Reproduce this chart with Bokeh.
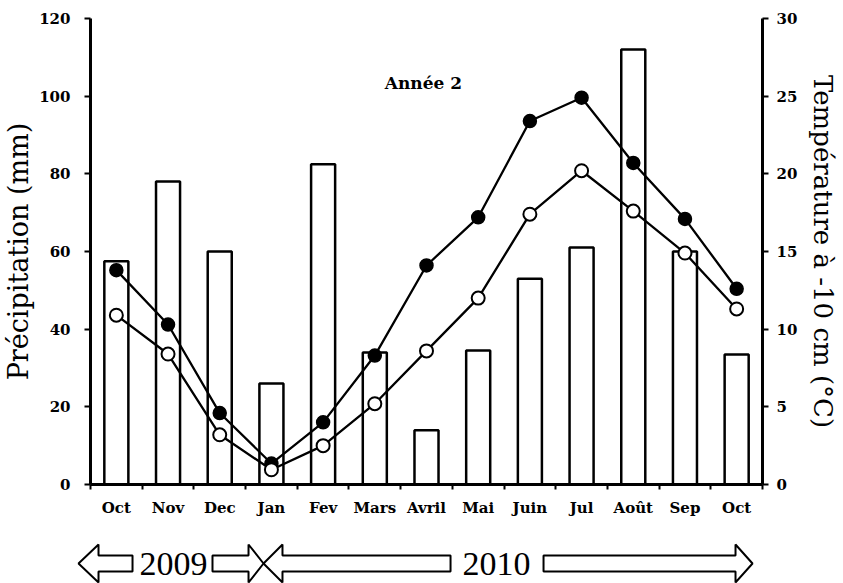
from bokeh.plotting import figure
from bokeh.models import Range1d, LinearAxis, FixedTicker, ColumnDataSource, Label
from bokeh.layouts import column
from bokeh.core.properties import value
from bokeh.embed import file_html
from bokeh.resources import INLINE

# ---- data ----
months = ["Oct", "Nov", "Dec", "Jan", "Fev", "Mars", "Avril", "Mai", "Juin", "Jul", "Août", "Sep", "Oct"]
precip_mm = [57.5, 78, 60, 26, 82.5, 34, 14, 34.5, 53, 61, 112, 60, 33.5]
temp_filled = [13.8, 10.3, 4.6, 1.35, 4.0, 8.3, 14.1, 17.2, 23.4, 24.9, 20.7, 17.1, 12.6]
temp_open = [10.9, 8.4, 3.2, 0.95, 2.5, 5.2, 8.6, 12.0, 17.4, 20.2, 17.6, 14.9, 11.3]
left_ticks = [0, 20, 40, 60, 80, 100, 120]
right_ticks = [0, 5, 10, 15, 20, 25, 30]
year_labels = ["2009", "2010"]

x = list(range(len(months)))
src = ColumnDataSource(dict(x=x, p=precip_mm, ta=temp_filled, tb=temp_open))

SERIF = "DejaVu Serif"

W = 843
FL, FR = 90, 81
H1 = 519
p = figure(width=W, height=H1, x_range=Range1d(-0.5, len(months) - 0.5),
           y_range=Range1d(0, 120), toolbar_location=None, output_backend="svg",
           min_border_left=FL, min_border_right=FR, min_border_top=18, min_border_bottom=35)
p.extra_y_ranges = {"temp": Range1d(0, 30)}
p.outline_line_color = None
p.xgrid.grid_line_color = None
p.ygrid.grid_line_color = None
p.frame_align = False

# bars
p.vbar(x="x", top="p", width=0.465, source=src, fill_color="white",
       line_color="black", line_width=2.5)
# temperature lines
p.line("x", "ta", source=src, y_range_name="temp", line_color="black", line_width=2.3)
p.line("x", "tb", source=src, y_range_name="temp", line_color="black", line_width=2.3)
p.scatter("x", "ta", source=src, y_range_name="temp", size=13, fill_color="black",
          line_color="black", line_width=1.5)
p.scatter("x", "tb", source=src, y_range_name="temp", size=13, fill_color="white",
          line_color="black", line_width=2)

# x axis
xa = p.xaxis[0]
xa.ticker = FixedTicker(ticks=x, minor_ticks=[i - 0.5 for i in range(len(months) + 1)])
xa.major_label_overrides = {i: m for i, m in enumerate(months)}
xa.major_tick_out = 0
xa.major_tick_in = 0
xa.minor_tick_out = 5
xa.minor_tick_in = 0
xa.minor_tick_line_width = 2
xa.axis_line_width = 3
xa.major_label_standoff = 9
xa.major_label_text_font = SERIF
xa.major_label_text_font_style = "bold"
xa.major_label_text_font_size = "15px"
xa.major_label_text_color = "black"

# left axis
ya = p.yaxis[0]
ya.ticker = FixedTicker(ticks=left_ticks)
ya.axis_label = "Précipitation (mm)"
ya.axis_label_text_font = SERIF
ya.axis_label_text_font_style = "normal"
ya.axis_label_text_font_size = "27px"
ya.axis_label_text_color = "black"
ya.axis_label_standoff = 2
ya.major_tick_out = 6
ya.major_tick_in = 0
ya.minor_tick_out = 0
ya.minor_tick_in = 0
ya.major_tick_line_width = 2
ya.axis_line_width = 3
ya.major_label_standoff = 14
ya.major_label_text_font = SERIF
ya.major_label_text_font_style = "bold"
ya.major_label_text_font_size = "15px"
ya.major_label_text_color = "black"

# right axis
ra = LinearAxis(y_range_name="temp", ticker=FixedTicker(ticks=right_ticks),
                axis_label="Température à -10 cm (°C)")
ra.axis_label_text_font = SERIF
ra.axis_label_text_font_style = "normal"
ra.axis_label_text_font_size = "26px"
ra.axis_label_text_color = "black"
ra.axis_label_standoff = 8
ra.major_tick_out = 6
ra.major_tick_in = 0
ra.minor_tick_out = 0
ra.minor_tick_in = 0
ra.major_tick_line_width = 2
ra.axis_line_width = 3
ra.major_label_standoff = 8
ra.major_label_text_font = SERIF
ra.major_label_text_font_style = "bold"
ra.major_label_text_font_size = "15px"
ra.major_label_text_color = "black"
p.add_layout(ra, "right")

p.add_layout(Label(x=5.94, y=103.3, text="Année 2", text_align="center",
                   text_baseline="middle", text_font=SERIF, text_font_style="bold",
                   text_font_size="17px", text_color="black"))

# ---- year band with block arrows ----
ppc = (W - FL - FR) / len(months)
x0 = -0.5 - FL / ppc
x1 = len(months) - 0.5 + FR / ppc
H2 = 583 - H1
p2 = figure(width=W, height=H2, x_range=Range1d(x0, x1), y_range=Range1d(0, H2),
            toolbar_location=None, output_backend="svg", min_border=0)
p2.axis.visible = False
p2.xgrid.grid_line_color = None
p2.ygrid.grid_line_color = None
p2.outline_line_color = None
p2.frame_align = False


def block_arrow(tail, base, tip, yc=20, sh=8, hh=19):
    xs = [tail, base, base, tip, base, base, tail]
    ys = [yc - sh, yc - sh, yc - hh, yc, yc + hh, yc + sh, yc + sh]
    return xs, ys


arrows = [
    block_arrow(0.313, -0.345, -0.732),
    block_arrow(1.86, 2.557, 2.847),
    block_arrow(6.465, 3.214, 2.847),
    block_arrow(8.264, 11.978, 12.307),
]
p2.patches([a[0] for a in arrows], [a[1] for a in arrows], fill_color="white",
           line_color="black", line_width=2)
p2.text(x=[1.106, 7.354], y=[20, 20], text=year_labels, text_align="center",
        text_baseline="middle", text_font=value("Liberation Serif"),
        text_font_size="34px", text_color="black")

layout = column(p, p2, spacing=0)
open("out.html", "w").write(file_html(layout, INLINE))
